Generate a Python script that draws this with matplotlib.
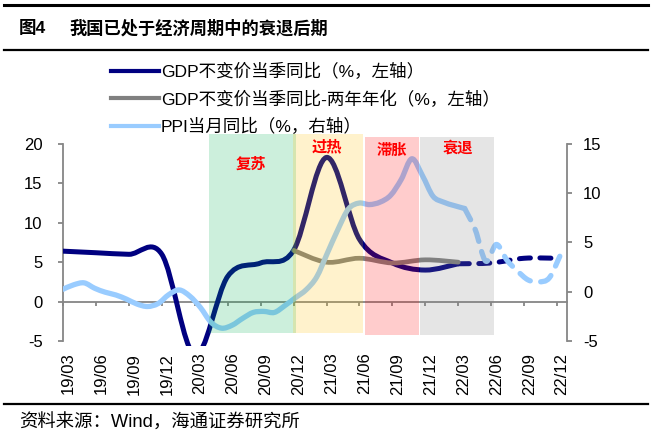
import numpy as np
import matplotlib
matplotlib.use("Agg")
import matplotlib.pyplot as plt
import matplotlib.transforms as mtransforms
from matplotlib.path import Path
from matplotlib.patches import PathPatch, Rectangle
from matplotlib.lines import Line2D

plt.rcParams["font.family"] = ["Liberation Sans", "Noto Sans CJK SC"]
plt.rcParams["axes.unicode_minus"] = False

# quarterly axis (left scale)
quarters = ["19/03", "19/06", "19/09", "19/12", "20/03", "20/06", "20/09", "20/12",
            "21/03", "21/06", "21/09", "21/12", "22/03", "22/06", "22/09", "22/12"]
gdp_yoy = [6.4, 6.2, 6.0, 6.0, -6.8, 3.2, 4.9, 6.5, 18.3, 7.9, 4.9, 4.0, 4.8]
gdp_forecast = [4.8, 4.9, 5.5, 5.5]            # 22/03 .. 22/12, dashed
gdp_2y = [6.5, 5.0, 5.5, 4.9, 5.3, 5.0]        # 20/12 .. 22/03
gdp_2y_start = 7

# monthly PPI (right scale), first point 19/02
ppi = [0.25, 0.7, 0.9, 0.35, -0.05, -0.33, -0.75, -1.25, -1.5, -1.2,
       -0.3, 0.18, -0.45, -1.6, -3.1, -3.7, -3.4, -2.7, -2.1, -2.0,
       -2.1, -1.4, -0.6, 0.2, 1.5, 3.9, 6.3, 8.4, 9.0, 8.85,
       9.1, 9.8, 11.4, 13.5, 11.8, 9.7, 9.1, 8.75, 8.45]
ppi_forecast = [8.45, 6.3, 3.1, 4.8, 3.2, 2.1, 1.2, 1.0, 1.4, 3.6]

# cycle phases (quarter units)
phase_names = ["复苏", "过热", "滞胀", "衰退"]
phase_start = [4.43, 6.98, 9.17, 10.85]
phase_end = [7.08, 9.12, 10.82, 13.07]
phase_bottom = [-4.0, -4.0, -4.3, -4.3]
phase_top = [21.3, 21.3, 20.9, 20.9]
phase_label_x = [5.7, 8.0, 9.97, 12.0]
phase_label_y = [17.5, 19.7, 19.3, 19.5]
phase_colors = ["#00B050", "#FFC000", "#FF0000", "#808080"]

NAVY = "#000080"
GREY = "#808080"
LIGHT = "#99CCFF"
AXC = "#868686"


def smooth_path(xs, ys):
    """Excel-like smoothed line: Catmull-Rom converted to cubic Bezier."""
    pts = np.column_stack([xs, ys]).astype(float)
    n = len(pts)
    verts = [pts[0]]
    codes = [Path.MOVETO]
    for i in range(n - 1):
        p0 = pts[i - 1] if i > 0 else pts[i]
        p1, p2 = pts[i], pts[i + 1]
        p3 = pts[i + 2] if i + 2 < n else pts[i + 1]
        verts += [p1 + (p2 - p0) / 6, p2 - (p3 - p1) / 6, p2]
        codes += [Path.CURVE4] * 3
    return Path(verts, codes)


def draw_smooth(ax, xs, ys, color, lw, ls="-", zorder=3):
    patch = PathPatch(smooth_path(xs, ys), fill=False, edgecolor=color, lw=lw,
                      linestyle=ls, capstyle="round", joinstyle="round", zorder=zorder)
    ax.add_patch(patch)
    return patch


fig = plt.figure(figsize=(6.51, 4.38), dpi=100)
rect = [63 / 651, 1 - 345.7 / 438, 504 / 651, 213.5 / 438]
ax = fig.add_axes(rect)
ax2 = fig.add_axes(rect)

ax.set_xlim(0, 15.3)
ax.set_ylim(-5.6, 21.5)
ax2.set_xlim(0, 47.68)
ax2.set_ylim(-5.48, 16.2)
ax2.patch.set_visible(False)

# left axis / lines
qx = np.arange(len(quarters))
draw_smooth(ax, qx[:len(gdp_yoy)], gdp_yoy, NAVY, 3.6)
draw_smooth(ax, qx[len(gdp_yoy) - 1:], gdp_forecast, NAVY, 3.6, ls=(0, (2.2, 1.9)))
draw_smooth(ax, qx[gdp_2y_start:gdp_2y_start + len(gdp_2y)], gdp_2y, GREY, 3.4)

px = np.arange(len(ppi) + len(ppi_forecast) - 1)
draw_smooth(ax2, px[:len(ppi)], ppi, LIGHT, 3.8)
draw_smooth(ax2, px[len(ppi) - 1:], ppi_forecast, LIGHT, 3.8, ls=(0, (2.4, 2.0)))

# phase shading on top of all lines
for name, x0, x1, y0, y1, lx, ly, c in zip(phase_names, phase_start, phase_end, phase_bottom,
                                            phase_top, phase_label_x, phase_label_y, phase_colors):
    ax2.add_patch(Rectangle((x0, y0), x1 - x0, y1 - y0, transform=ax.transData,
                            facecolor=c, alpha=0.2, lw=0, zorder=5, clip_on=False))
    ax2.text(lx, ly, name, transform=ax.transData, color="#FF0000", fontsize=11,
             fontweight="bold", ha="center", va="center", family="Noto Sans CJK SC", zorder=6)

# spines and ticks
for s in ["top", "right"]:
    ax.spines[s].set_visible(False)
ax.spines["left"].set_bounds(-5, 20)
ax.spines["left"].set_color(AXC)
ax.spines["left"].set_linewidth(1.3)
ax.spines["bottom"].set_position(("data", 0))
ax.spines["bottom"].set_color(AXC)
ax.spines["bottom"].set_linewidth(1.3)
ax.set_yticks([-5, 0, 5, 10, 15, 20])
ax.tick_params(axis="y", length=3.6, width=1.3, color=AXC, pad=11, labelsize=12)
ax.set_xticks(qx)
ax.tick_params(axis="x", length=3, width=1.3, color=AXC, labelbottom=False)

sec = ax.secondary_xaxis("bottom")
sec.set_xticks(qx, quarters, rotation=90)
sec.tick_params(length=0, pad=5, labelsize=12)
sec.spines["bottom"].set_visible(False)
shift = mtransforms.ScaledTranslation(0.05, 0, fig.dpi_scale_trans)
for lab in sec.get_xticklabels():
    lab.set_transform(lab.get_transform() + shift)

for s in ["top", "left", "bottom"]:
    ax2.spines[s].set_visible(False)
ax2.spines["right"].set_bounds(-5, 15)
ax2.spines["right"].set_color(AXC)
ax2.spines["right"].set_linewidth(1.3)
ax2.yaxis.tick_right()
ax2.set_yticks([-5, 0, 5, 10, 15])
ax2.tick_params(axis="y", length=3.6, width=1.3, color=AXC, pad=8, labelsize=12)
ax2.set_xticks([])

# legend
handles = [Line2D([], [], color=NAVY, lw=3),
           Line2D([], [], color=GREY, lw=3),
           Line2D([], [], color=LIGHT, lw=3)]
labels = ["GDP不变价当季同比（%，左轴）",
          "GDP不变价当季同比-两年年化（%，左轴）",
          "PPI当月同比（%，右轴）"]
fig.legend(handles, labels, loc="upper left", bbox_to_anchor=(111 / 651, 1 - 63 / 438),
           frameon=False, fontsize=12.6, handlelength=2.75, handletextpad=0.1,
           labelspacing=0.58, borderpad=0, borderaxespad=0)

# title, source and rules
fig.text(19 / 651, 1 - 28 / 438, "图4", fontsize=12.6, fontweight="bold",
         ha="left", va="center")
fig.text(69 / 651, 1 - 28 / 438, "我国已处于经济周期中的衰退后期", fontsize=12.4,
         fontweight="bold", ha="left", va="center")
fig.text(19 / 651, 1 - 423 / 438, "资料来源：Wind，海通证券研究所", fontsize=13.2,
         ha="left", va="center")
for y, lw in [(5, 2.2), (49.5, 1.6), (403.5, 1.6)]:
    fig.add_artist(Line2D([4 / 651, 648 / 651], [1 - y / 438, 1 - y / 438],
                          transform=fig.transFigure, color="black", lw=lw))

fig.savefig("out.png", dpi=100)
